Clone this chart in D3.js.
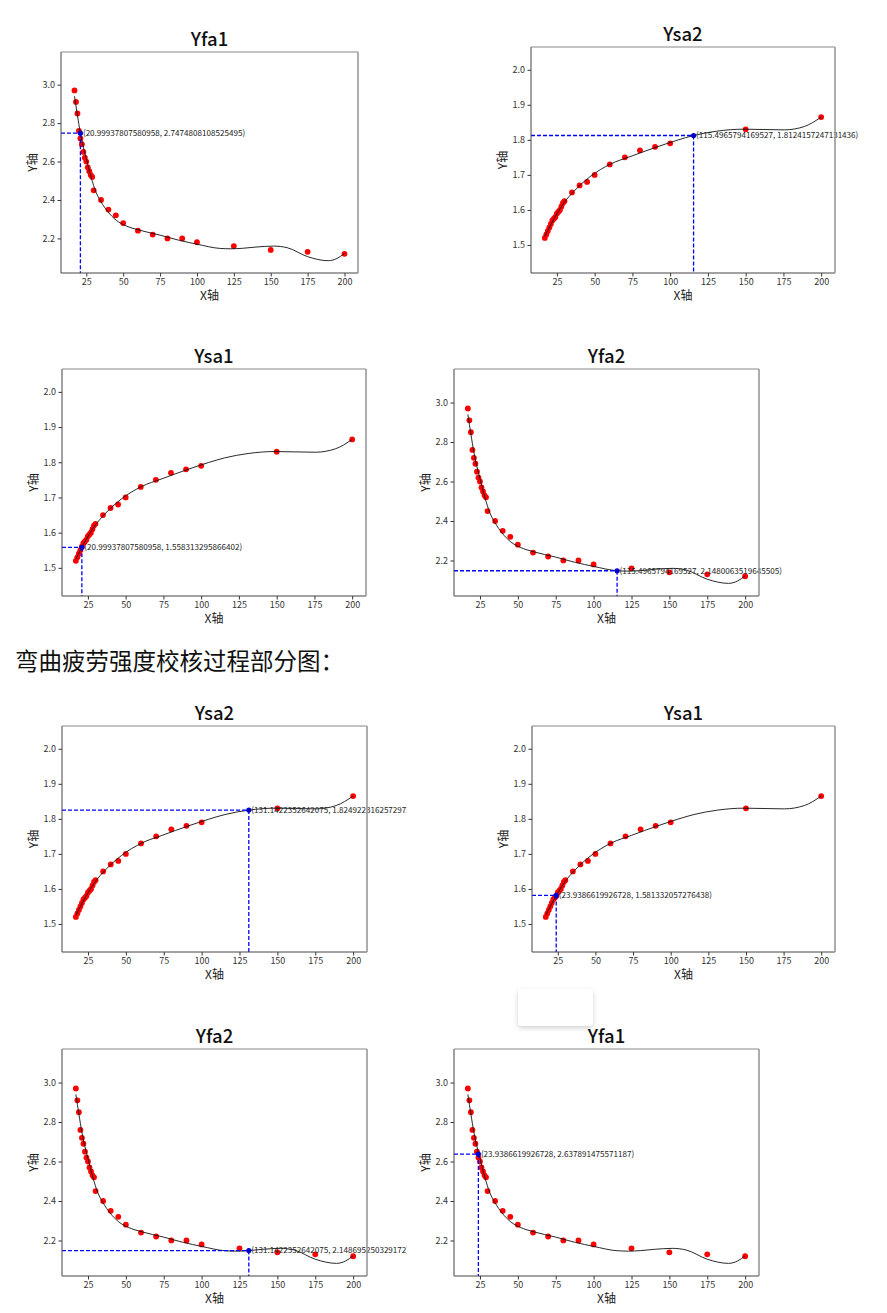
<!DOCTYPE html>
<html><head><meta charset="utf-8">
<script src="https://cdn.jsdelivr.net/npm/d3@7"></script>
<style>
body{margin:0;background:#fff}
svg{display:block}
text{font-family:"Noto Sans CJK SC","Noto Sans",sans-serif}
</style>
</head><body>
<svg id="c" width="887" height="1313"></svg>
<script>
// ---------- data ----------
const xFa = [17,18,19,20,21,22,23,24,25,26,27,28,29,30,35,40,45,50,60,70,80,90,100,125,150,175,200];
const yFa = [2.97,2.91,2.85,2.76,2.72,2.69,2.65,2.62,2.60,2.57,2.55,2.53,2.52,2.45,2.40,2.35,2.32,2.28,2.24,2.22,2.20,2.20,2.18,2.16,2.14,2.13,2.12];
const xSa = [17,18,19,20,21,22,23,24,25,26,27,28,29,30,35,40,45,50,60,70,80,90,100,150,200];
const ySa = [1.52,1.53,1.54,1.55,1.56,1.57,1.575,1.58,1.59,1.595,1.60,1.61,1.62,1.625,1.65,1.67,1.68,1.70,1.73,1.75,1.77,1.78,1.79,1.83,1.865];
// fitted curves
const fitFaX = [17,19,21,23,25,28.2,31.6,35,39.5,45.2,52,60,75,88,100,115.5,123,131.1,140,152,161,175,189,195,200];
const fitFaY = [2.94,2.84,2.7475,2.675,2.615,2.52,2.44,2.39,2.34,2.295,2.265,2.245,2.217,2.19,2.17,2.148,2.146,2.1487,2.155,2.16,2.152,2.105,2.084,2.096,2.122];
const fitSaX = [17,21,23.94,30,36,47,60.5,74,91.4,104.7,115.5,131.1,148.8,162,175.5,188.8,200];
const fitSaY = [1.525,1.5583,1.5813,1.622,1.652,1.695,1.731,1.753,1.78,1.799,1.8124,1.8249,1.8305,1.8295,1.8285,1.838,1.865];
const xTicks = [25,50,75,100,125,150,175,200];
const faTicks = [2.2,2.4,2.6,2.8,3.0];
const saTicks = [1.5,1.6,1.7,1.8,1.9,2.0];
const panelTitles = ["Yfa1","Ysa2","Ysa1","Yfa2","Ysa2","Ysa1","Yfa2","Yfa1"];
const panelKinds  = ["fa","sa","sa","fa","sa","sa","fa","fa"];
const markX = [20.99937807580958,115.4965794169527,20.99937807580958,115.4965794169527,131.1422352642075,23.9386619926728,131.1422352642075,23.9386619926728];
const markY = [2.7474808108525495,1.8124157247131436,1.558313295866402,2.1480063519645505,1.8249223162572973,1.581332057276438,2.148695250329172,2.637891475571187];
const markLabels = [
 "(20.99937807580958, 2.7474808108525495)",
 "(115.4965794169527, 1.8124157247131436)",
 "(20.99937807580958, 1.558313295866402)",
 "(115.4965794169527, 2.1480063519645505)",
 "(131.1422352642075, 1.8249223162572973)",
 "(23.9386619926728, 1.581332057276438)",
 "(131.1422352642075, 2.148695250329172)",
 "(23.9386619926728, 2.637891475571187)"
];
const headingText = "弯曲疲劳强度校核过程部分图：";

// ---------- layout ----------
const boxes = [
 [61,52,358,273],[531,47,835,273],
 [62,369,366,596],[454,369,759,596],
 [62,726,367,952],[532,726,835,952],
 [62,1049,367,1276],[454,1049,759,1276]
];
const clipRight = [887,887,887,887,407,887,407,887];

const svg = d3.select("#c");
const defs = svg.append("defs");
const flt = defs.append("filter").attr("id","sh").attr("x","-30%").attr("y","-30%").attr("width","160%").attr("height","180%");
flt.append("feDropShadow").attr("dx",0).attr("dy",2).attr("stdDeviation",2.5).attr("flood-color","#000").attr("flood-opacity",0.18);

const xDom = [7.85, 209.15];
const yDom = {fa:[d3.min(yFa)-0.1, d3.max(yFa)+0.2], sa:[d3.min(ySa)-0.1, d3.max(ySa)+0.2]};

boxes.forEach((b,i)=>{
  const [L,T,R,B] = b;
  const kind = panelKinds[i];
  const xs = kind==="fa"?xFa:xSa, ys = kind==="fa"?yFa:ySa;
  const fx = kind==="fa"?fitFaX:fitSaX, fy = kind==="fa"?fitFaY:fitSaY;
  const x = d3.scaleLinear().domain(xDom).range([L,R]);
  const y = d3.scaleLinear().domain(yDom[kind]).range([B,T]);
  const g = svg.append("g");
  const cid = "clip"+i;
  defs.append("clipPath").attr("id",cid).append("rect").attr("x",L).attr("y",T).attr("width",R-L).attr("height",B-T);
  const tid = "tclip"+i;
  defs.append("clipPath").attr("id",tid).append("rect").attr("x",L).attr("y",T-20).attr("width",clipRight[i]-L).attr("height",B-T+40);

  // axes
  const ax = g.append("g").attr("transform",`translate(0,${B})`)
    .call(d3.axisBottom(x).tickValues(xTicks).tickSize(3.5).tickPadding(2.5).tickFormat(d3.format("d")));
  const ay = g.append("g").attr("transform",`translate(${L},0)`)
    .call(d3.axisLeft(y).tickValues(kind==="fa"?faTicks:saTicks).tickSize(3.5).tickPadding(2.5).tickFormat(d3.format(".1f")));
  [ax,ay].forEach(a=>{
    a.select(".domain").remove();
    a.selectAll("line").attr("stroke","#333");
    a.selectAll("text").attr("font-size","9px").attr("fill","#333")
      .attr("font-family",'"Noto Sans CJK SC",sans-serif');
  });

  const pg = g.append("g").attr("clip-path",`url(#${cid})`);
  pg.selectAll("circle.pt").data(xs.map((v,k)=>[v,ys[k]])).enter().append("circle")
    .attr("cx",d=>x(d[0])).attr("cy",d=>y(d[1])).attr("r",2.9).attr("fill","#ff0000");
  const line = d3.line().x(d=>x(d[0])).y(d=>y(d[1])).curve(d3.curveMonotoneX);
  pg.append("path").attr("d",line(fx.map((v,k)=>[v,fy[k]])))
    .attr("fill","none").attr("stroke","#111").attr("stroke-width",0.9);

  // marker lines
  const mx = x(markX[i]), my = y(markY[i]);
  pg.append("line").attr("x1",L).attr("x2",mx).attr("y1",my).attr("y2",my)
    .attr("stroke","#0000ff").attr("stroke-width",1.3).attr("stroke-dasharray","4,2");
  pg.append("line").attr("x1",mx).attr("x2",mx).attr("y1",my).attr("y2",B)
    .attr("stroke","#0000ff").attr("stroke-width",1.3).attr("stroke-dasharray","4,2");
  g.append("circle").attr("cx",mx).attr("cy",my).attr("r",2.6).attr("fill","#0000cc");
  g.append("text").attr("clip-path",`url(#${tid})`).attr("x",mx+2.5).attr("y",my).attr("dy","0.35em")
    .attr("font-size","8.1px").attr("fill","#222").text(markLabels[i]);

  // spines
  g.append("line").attr("x1",L).attr("x2",L).attr("y1",T).attr("y2",B).attr("stroke","#444").attr("stroke-width",1);
  g.append("line").attr("x1",L).attr("x2",R).attr("y1",B).attr("y2",B).attr("stroke","#444").attr("stroke-width",1);
  g.append("line").attr("x1",L).attr("x2",R).attr("y1",T).attr("y2",T).attr("stroke","#888").attr("stroke-width",1.2);
  g.append("line").attr("x1",R).attr("x2",R).attr("y1",T).attr("y2",B).attr("stroke","#999").attr("stroke-width",1.6);

  // labels
  g.append("text").attr("x",(L+R)/2).attr("y",T-6).attr("text-anchor","middle")
    .attr("font-size","18.5px").attr("font-weight","500").attr("fill","#111").text(panelTitles[i]);
  g.append("text").attr("x",(L+R)/2).attr("y",B+23).attr("dy","0.35em").attr("text-anchor","middle")
    .attr("font-size","12px").attr("fill","#222").text("X轴");
  g.append("text").attr("transform",`translate(${L-28},${(T+B)/2}) rotate(-90)`).attr("dy","0.35em")
    .attr("text-anchor","middle").attr("font-size","12px").attr("fill","#222").text("Y轴");
});

// heading
svg.append("text").attr("x",15).attr("y",670).attr("font-size","23.5px").attr("fill","#111").text(headingText);

// floating white box
svg.append("rect").attr("x",518).attr("y",989).attr("width",75).attr("height",37).attr("rx",4)
  .attr("fill","#fff").attr("filter","url(#sh)");
</script>
</body></html>
